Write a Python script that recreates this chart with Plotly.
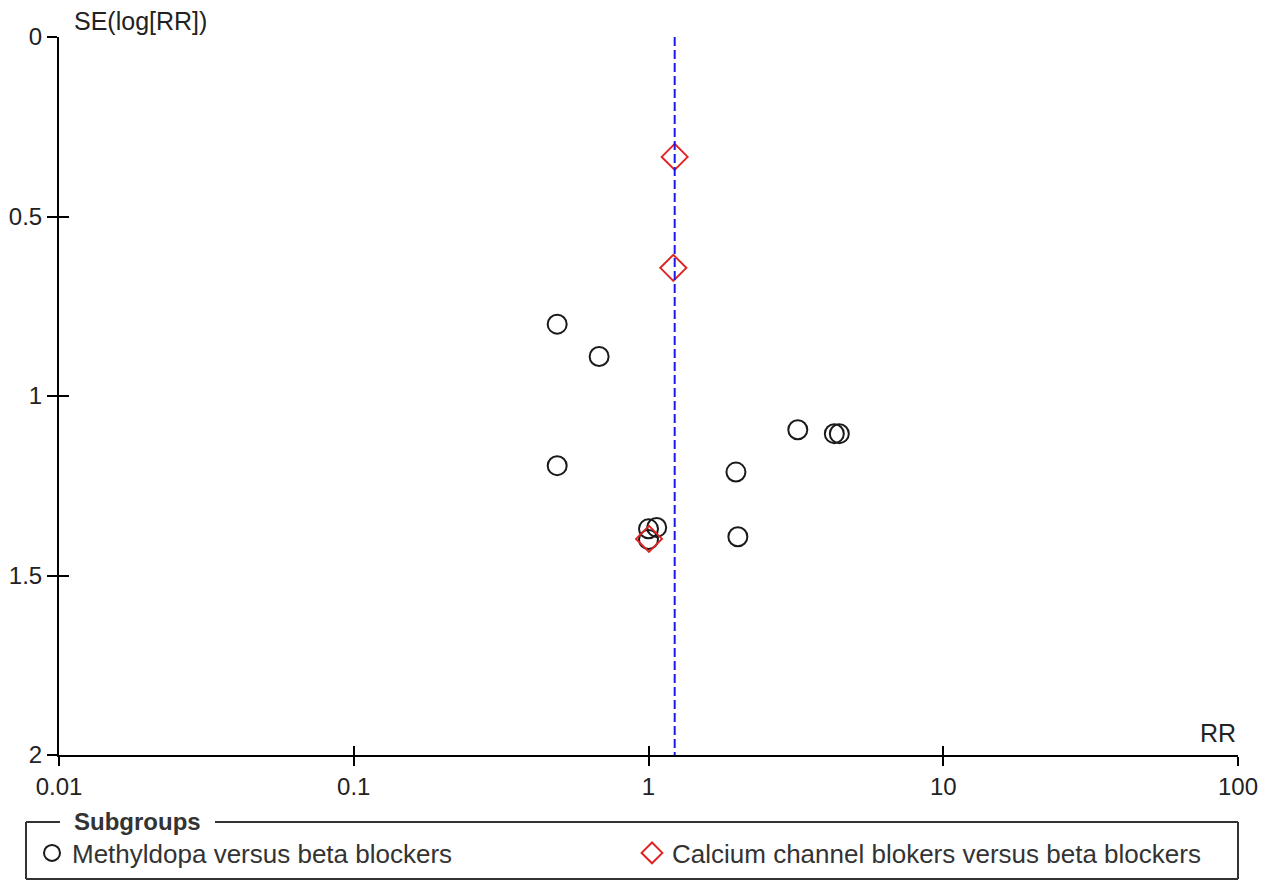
import plotly.graph_objects as go

# Funnel plot: risk ratio (log scale) against its standard error
W, H = 1272, 880

methyldopa_rr = [0.49, 0.68, 0.49, 3.21, 4.27, 4.44, 1.98, 2.01, 1.0, 1.0, 1.066]
methyldopa_se = [0.80, 0.89, 1.194, 1.094, 1.105, 1.105, 1.212, 1.392, 1.40, 1.37, 1.366]

ccb_rr = [1.227, 1.214, 1.004]
ccb_se = [0.334, 0.643, 1.398]

pooled_rr = 1.227
se_span = [0, 2]

x_ticks = [0.01, 0.1, 1, 10, 100]
x_tick_text = ["0.01", "0.1", "1", "10", "100"]
y_ticks = [0, 0.5, 1, 1.5, 2]
y_tick_text = ["0", "0.5", "1", "1.5", "2"]

FONT = "Liberation Sans, Arial, sans-serif"
TXT = "#222222"

# plot region in pixels
PL, PR, PT, PB = 59, 1238, 37, 755

fig = go.Figure()

fig.add_trace(go.Scatter(
    x=methyldopa_rr, y=methyldopa_se, mode="markers",
    name="Methyldopa versus beta blockers",
    marker=dict(symbol="circle-open", size=19, color="#1a1a1a",
                line=dict(width=2, color="#1a1a1a")),
))
fig.add_trace(go.Scatter(
    x=ccb_rr, y=ccb_se, mode="markers",
    name="Calcium channel blokers versus beta blockers",
    marker=dict(symbol="diamond-open", size=20, color="#e02424",
                line=dict(width=2, color="#e02424")),
))
# pooled estimate line, on the overlay axes (same ranges) so those get drawn
fig.add_trace(go.Scatter(
    x=[pooled_rr, pooled_rr], y=se_span, mode="lines", showlegend=False,
    xaxis="x2", yaxis="y2",
    line=dict(color="#1a1aee", width=2, dash="9px,4px"),
    hoverinfo="skip",
))

axis_common = dict(showgrid=False, zeroline=False, automargin=False,
                   tickcolor="black", tickwidth=2, fixedrange=True)

fig.update_layout(
    width=W, height=H,
    margin=dict(l=0, r=0, t=0, b=0),
    paper_bgcolor="white", plot_bgcolor="white",
    font=dict(family=FONT, size=24, color=TXT),
    xaxis=dict(type="log", range=[-2, 2], domain=[PL / W, PR / W],
               anchor="y", showline=True, linecolor="black", linewidth=2,
               ticks="outside", ticklen=9, tickvals=x_ticks, ticktext=x_tick_text,
               tickfont=dict(size=24, color=TXT), **axis_common),
    yaxis=dict(range=[2, 0], domain=[1 - PB / H, 1 - PT / H],
               anchor="x", showline=True, linecolor="black", linewidth=2,
               ticks="outside", ticklen=10, tickvals=y_ticks, ticktext=y_tick_text,
               tickfont=dict(size=24, color=TXT), **axis_common),
    # inner halves of the ticks so they cross the axis lines
    xaxis2=dict(type="log", range=[-2, 2], overlaying="x", anchor="y", side="bottom",
                showline=False, ticks="inside", ticklen=9, tickvals=x_ticks,
                showticklabels=False, **axis_common),
    yaxis2=dict(range=[2, 0], overlaying="y", anchor="x", side="left",
                showline=False, ticks="inside", ticklen=10, tickvals=y_ticks,
                showticklabels=False, **axis_common),
    showlegend=True,
    legend=dict(orientation="h", x=32 / W, xanchor="left", y=1 - 853 / H, yanchor="middle",
                font=dict(size=26, color="#333333", family=FONT),
                bgcolor="rgba(0,0,0,0)", borderwidth=0,
                entrywidth=555, entrywidthmode="pixels", itemclick=False),
)

# axis titles
fig.add_annotation(text="SE(log[RR])", xref="paper", yref="paper",
                   x=72 / W, y=1 - 21 / H, xanchor="left", yanchor="middle",
                   showarrow=False, font=dict(size=25, color=TXT, family=FONT))
fig.add_annotation(text="RR", xref="paper", yref="paper",
                   x=1238 / W, y=1 - 733 / H, xanchor="right", yanchor="middle",
                   showarrow=False, font=dict(size=25, color=TXT, family=FONT))

# legend frame with the title set into its top edge
LX0, LX1, LY0, LY1 = 26, 1238, 822, 879
frame = dict(type="line", xref="paper", yref="paper", line=dict(color="#333333", width=2))
fig.add_shape(x0=LX0 / W, x1=60 / W, y0=1 - LY0 / H, y1=1 - LY0 / H, **frame)
fig.add_shape(x0=215 / W, x1=LX1 / W, y0=1 - LY0 / H, y1=1 - LY0 / H, **frame)
fig.add_shape(x0=LX0 / W, x1=LX0 / W, y0=1 - LY0 / H, y1=1 - LY1 / H, **frame)
fig.add_shape(x0=LX1 / W, x1=LX1 / W, y0=1 - LY0 / H, y1=1 - LY1 / H, **frame)
fig.add_shape(x0=LX0 / W, x1=LX1 / W, y0=1 - LY1 / H, y1=1 - LY1 / H, **frame)
fig.add_annotation(text="<b>Subgroups</b>", xref="paper", yref="paper",
                   x=137 / W, y=1 - 821 / H, xanchor="center", yanchor="middle",
                   showarrow=False, font=dict(size=24, color="#333333", family=FONT))

fig.write_html("out.html")
